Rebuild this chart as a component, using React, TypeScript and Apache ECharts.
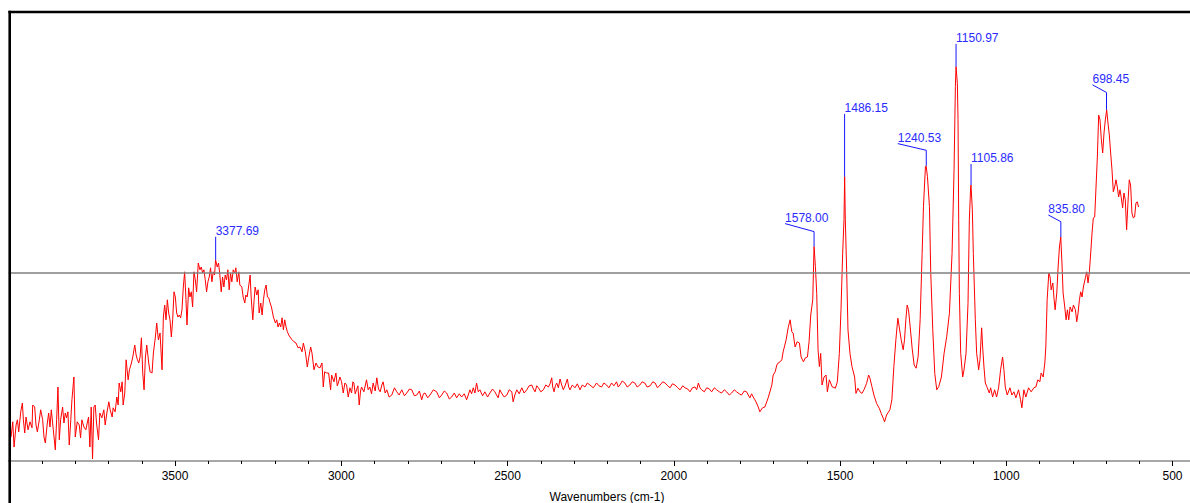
import { useEffect, useRef } from "react";
import * as echarts from "echarts";

// ---- axis settings ----
const X_MIN = 0;
const X_MAX = 4000;
const X_TICK_STEP = 500;
const Y_MIN = 0;
const Y_MAX = 112.25;
const axisTitle = "Wavenumbers (cm-1)";
const referenceLevel = 47.1;

// ---- spectrum (wavenumber cm-1, intensity a.u.) ----
const hydroxylRegion: [number, number][] = [
  [3993, 6], [3988, 9.8], [3984, 3.5], [3978, 9], [3974, 10.3], [3970, 7.3], [3964, 12.3], [3959, 14.5],
  [3956, 10.3], [3952, 7], [3948, 11], [3942, 7.8], [3936, 9.8], [3930, 8.3], [3928, 14], [3922, 13.5],
  [3918, 9], [3914, 7.3], [3908, 10.3], [3904, 12.8], [3898, 10.3], [3894, 6], [3890, 4.5], [3884, 9.5],
  [3880, 12], [3876, 8.5], [3872, 12.8], [3866, 7.8], [3860, 2.8], [3856, 10.3], [3852, 18.5], [3848, 5.3],
  [3844, 10.3], [3838, 13.5], [3834, 9.5], [3830, 12], [3826, 10.8], [3822, 12.3], [3818, 4], [3814, 9.5],
  [3810, 15.3], [3804, 21], [3800, 6], [3794, 9.8], [3788, 9], [3784, 5.8], [3780, 10.3], [3774, 8.5],
  [3768, 7.8], [3764, 9.5], [3760, 11], [3756, 3.5], [3752, 13.5], [3748, 0.5], [3744, 13.5], [3740, 14],
  [3736, 9.5], [3730, 5.3], [3726, 12], [3720, 10.8], [3714, 12.8], [3710, 9], [3705, 12], [3699, 14.8],
  [3695, 12.8], [3689, 11], [3686, 13.3], [3680, 12.3], [3675, 16], [3671, 14], [3668, 19.5], [3663, 17.3],
  [3659, 19.8], [3656, 14], [3651, 17], [3647, 25.3], [3641, 20.3], [3637, 22.8], [3631, 24.5], [3627, 26],
  [3621, 29], [3617, 26.5], [3613, 25.3], [3609, 24.5], [3605, 26], [3601, 30.8], [3597, 22], [3593, 17.8],
  [3589, 26], [3585, 29], [3579, 24.5], [3575, 22.3], [3569, 22], [3565, 27], [3559, 31], [3555, 34.5],
  [3550, 30.3], [3545, 32], [3539, 22.8], [3535, 36], [3531, 39], [3527, 35.3], [3523, 40.3], [3519, 37],
  [3515, 35.3], [3511, 31], [3507, 35.3], [3503, 42.3], [3499, 41], [3495, 37], [3491, 36], [3487, 36.5],
  [3483, 35.8], [3479, 37.8], [3475, 43.5], [3471, 47.3], [3467, 40.3], [3464, 34], [3459, 43.3], [3455, 41],
  [3451, 42.3], [3447, 38.5], [3443, 47.3], [3439, 45.3], [3435, 42.3], [3430, 49.5], [3425, 47.8], [3421, 48.5],
  [3417, 47], [3413, 47.8], [3409, 45.3], [3405, 42.3], [3401, 44.8], [3397, 46], [3393, 48.3], [3389, 44.8],
  [3385, 47.3], [3381, 46.5], [3378, 50.3], [3373, 48.5], [3369, 49.5], [3365, 46.5], [3361, 42.3], [3357, 46],
  [3353, 43.5], [3349, 46.5], [3345, 45.3], [3341, 47.8], [3337, 42.8], [3333, 47], [3329, 44.8], [3325, 47.8],
  [3320, 47], [3317, 48.3], [3313, 44.8], [3308, 47.3], [3305, 44], [3299, 43.5], [3295, 41], [3290, 39.5],
  [3287, 41.5], [3283, 41], [3278, 44], [3274, 46.5], [3271, 41], [3266, 35.3], [3262, 40.3], [3259, 43.5],
  [3254, 41.5], [3250, 42.8], [3247, 37], [3242, 39.5], [3238, 36.5], [3234, 40.3], [3230, 42.8], [3226, 44],
  [3222, 41], [3218, 40.8], [3214, 39.5], [3210, 38.5], [3204, 36], [3198, 34.5], [3194, 35.3], [3190, 33.5],
  [3186, 34.5], [3182, 33.5], [3178, 35.8], [3174, 32.8], [3170, 35.3], [3166, 33.5], [3162, 32.3], [3158, 31.5],
  [3154, 31], [3148, 30.3], [3142, 29.8], [3136, 29.5], [3130, 28.3], [3124, 28.5], [3118, 27.3], [3114, 29.5],
  [3108, 27.3], [3102, 23.5], [3098, 25.8], [3092, 28.5], [3088, 27], [3082, 22.8], [3076, 24.5], [3070, 23.5],
  [3064, 23.3], [3058, 24.5], [3054, 18.5], [3050, 22.3], [3044, 22], [3038, 22], [3032, 17.8],
];

const midRegion: [number, number][] = [
  [3029, 21.5], [3022, 19.8], [3016, 22], [3012, 18.8], [3009, 19.5], [3004, 21], [2999, 19.8], [2994, 17],
  [2989, 19.5], [2984, 19], [2979, 16], [2974, 18.3], [2969, 17], [2965, 19.8], [2962, 19.5], [2958, 16.8],
  [2954, 17.8], [2950, 18.8], [2946, 14], [2942, 17.5], [2939, 18.5], [2932, 17.3], [2924, 20.3], [2919, 17.8],
  [2914, 18.5], [2909, 16.8], [2904, 19.5], [2898, 17.5], [2893, 20.8], [2888, 18], [2883, 17.3], [2878, 19],
  [2874, 19.8], [2868, 17], [2863, 17.8], [2856, 16], [2848, 16.5], [2840, 18.3], [2833, 17.3], [2826, 16.5],
  [2818, 17.8], [2810, 16.3], [2803, 17], [2795, 18], [2788, 17.8], [2780, 16.3], [2773, 16.5], [2765, 17.5],
  [2758, 15.3], [2753, 16.8], [2748, 17], [2740, 15.8], [2733, 16.5], [2723, 17.8], [2713, 17.3], [2705, 15.8],
  [2698, 16.5], [2690, 17.5], [2683, 17], [2675, 15.5], [2668, 16], [2660, 17], [2653, 15.8], [2645, 16.8],
  [2638, 16], [2630, 16.8], [2623, 15.3], [2618, 16.5], [2613, 17.8], [2608, 16.8], [2603, 18.3], [2598, 17],
  [2593, 19.5], [2588, 17.3], [2583, 17.8], [2575, 16.3], [2568, 17.3], [2560, 16], [2553, 17], [2545, 18],
  [2538, 17.3], [2533, 16.5], [2528, 15.8], [2523, 17.8], [2518, 17], [2510, 16], [2502, 16.5], [2495, 17.8],
  [2487, 17.3], [2485, 16], [2483, 14.8], [2478, 16.5], [2472, 17.8], [2465, 16.8], [2457, 18.3], [2450, 17],
  [2442, 17.8], [2435, 18.8], [2427, 19], [2422, 18], [2417, 17.3], [2412, 18.8], [2407, 18.3], [2400, 17.3],
  [2392, 17.8], [2385, 19], [2377, 18.5], [2372, 19.3], [2367, 20.8], [2364, 18.5], [2360, 17.3], [2356, 18.8],
  [2352, 19.5], [2347, 18.3], [2342, 20.5], [2337, 19], [2332, 17.8], [2326, 19], [2320, 20.5], [2316, 18.5],
  [2312, 17.8], [2305, 19], [2297, 18.3], [2290, 19.3], [2282, 17.8], [2275, 19], [2267, 18.5], [2260, 19.5],
  [2252, 19], [2242, 18.3], [2232, 19.5], [2225, 18.8], [2217, 18.5], [2210, 19.5], [2202, 19], [2195, 18.3],
  [2187, 19.5], [2180, 18.8], [2172, 19.8], [2167, 18.5], [2162, 19], [2155, 20], [2147, 19.5], [2140, 18.5],
  [2132, 19], [2125, 19.8], [2117, 19.5], [2110, 18.5], [2102, 19], [2095, 19.8], [2087, 19.5], [2080, 18.5],
  [2071, 18.8], [2063, 19.8], [2056, 19.5], [2049, 18.3], [2041, 19], [2033, 19.8], [2026, 19.5], [2018, 18.8],
  [2011, 18.3], [2004, 19.3], [1996, 19], [1988, 18.3], [1981, 17.8], [1973, 18.8], [1966, 18.3], [1958, 18],
  [1951, 17.3], [1944, 18.3], [1936, 18.5], [1931, 17.8], [1926, 19.5], [1921, 18.3], [1916, 17.8], [1908, 17.3],
  [1901, 18.3], [1893, 18], [1886, 17.3], [1878, 18.3], [1871, 17.8], [1863, 17.3], [1856, 17], [1848, 17.8],
  [1841, 17.3], [1833, 16.5], [1826, 17], [1818, 17.8], [1811, 17.3], [1803, 16.8], [1796, 16.5], [1788, 17.5],
  [1781, 17.3], [1776, 16.5], [1771, 15.8], [1766, 16.8], [1761, 16], [1756, 15.3], [1751, 14.5], [1746, 13.5],
];

const fingerprintRegion: [number, number][] = [
  [1741, 12.3], [1733, 13.3], [1726, 13.5], [1716, 15.8], [1705, 19], [1701, 21.5], [1695, 22.3], [1690, 24],
  [1686, 24.5], [1680, 24.8], [1675, 25.3], [1671, 27.3], [1662, 30.3], [1656, 33.3], [1650, 35.3], [1645, 32.3],
  [1641, 32], [1635, 28.5], [1629, 29.8], [1622, 29.5], [1617, 26], [1610, 24.8], [1604, 25.8], [1598, 26],
  [1593, 29.8], [1588, 36.5], [1582, 40.3], [1578, 53.6], [1574, 48.6], [1570, 41.9], [1566, 27.8], [1562, 23.6],
  [1558, 26.9], [1554, 19], [1548, 21], [1542, 21.5], [1538, 17.3], [1532, 20.3], [1524, 18.6], [1514, 18.2],
  [1508, 19.8], [1502, 26.9], [1497, 37.8], [1492, 51.9], [1488, 60.3], [1486, 71.1], [1484, 60.3], [1480, 47.8],
  [1476, 32.8], [1470, 26.9], [1464, 23.6], [1456, 21], [1452, 16.9], [1446, 18.2], [1440, 17.3], [1434, 16.9],
  [1428, 17.8], [1420, 19.4], [1414, 21.5], [1410, 20.7], [1404, 18.6], [1398, 16.5], [1390, 14.4], [1382, 13.2],
  [1376, 11.9], [1370, 10.7], [1366, 9.8], [1360, 11.5], [1350, 12.8], [1344, 15.3], [1338, 23.6], [1332, 30.3],
  [1326, 35.7], [1322, 33.6], [1316, 30.3], [1310, 27.8], [1306, 30.3], [1302, 35.3], [1298, 39], [1294, 37.8],
  [1289, 33.6], [1283, 28.2], [1277, 24], [1271, 23.2], [1265, 26.1], [1259, 35.3], [1253, 51.9], [1249, 63.6],
  [1243, 73.6], [1241, 73.8], [1237, 71.1], [1231, 63.6], [1227, 46.9], [1221, 32.8], [1215, 21.9], [1209, 17.8],
  [1203, 18.6], [1195, 21], [1187, 26.9], [1179, 31.1], [1171, 36.9], [1163, 51.9], [1157, 72.8], [1153, 93.6],
  [1151, 98.6], [1147, 94.4], [1145, 85.3], [1143, 60.3], [1141, 41.9], [1137, 26.9], [1131, 21], [1127, 22.8],
  [1121, 26.9], [1115, 39.4], [1111, 60.3], [1107, 68.6], [1106, 69], [1102, 62.8], [1099, 51.9], [1093, 35.3],
  [1089, 26.9], [1086, 25], [1083, 22.8], [1079, 25.3], [1074, 33.3], [1071, 28.5], [1067, 23.5], [1063, 19.5],
  [1057, 18.3], [1051, 17], [1047, 18.3], [1041, 16], [1035, 17.8], [1029, 16], [1023, 18.3], [1017, 22.8],
  [1011, 26], [1007, 22.8], [1003, 18.5], [997, 16.5], [989, 18.3], [983, 16.5], [977, 17.3], [971, 15.8],
  [963, 17.8], [957, 15.3], [953, 13.3], [947, 17.8], [941, 16], [933, 18.3], [925, 17.3], [917, 18.3],
  [911, 18.5], [905, 20.3], [899, 19.8], [895, 22], [889, 21], [884, 24.5], [881, 28.5], [877, 40.3],
  [872, 47], [868, 46], [865, 42.8], [860, 44.5], [856, 40.3], [853, 37.8], [848, 42], [844, 48.5],
  [840, 53.5], [836, 56], [832, 48.5], [829, 42], [824, 38.5], [820, 35.3], [816, 37.8], [812, 35.3],
  [808, 38.5], [802, 37.3], [798, 39], [792, 37.8], [788, 34.8], [784, 37], [780, 40.3], [776, 42.3],
  [772, 41], [768, 43.5], [762, 45.8], [758, 47.3], [754, 44.5], [750, 47.3], [746, 52], [742, 57],
  [738, 60.8], [734, 61], [730, 68.5], [726, 76], [722, 86.5], [718, 85.3], [714, 80.3], [710, 77],
  [706, 82], [702, 85.3], [698, 87.8], [694, 84.5], [690, 81.5], [686, 77], [682, 72.8], [678, 67.3],
  [674, 68.5], [670, 70.3], [666, 68.5], [662, 66], [658, 67.8], [654, 65.8], [650, 63.3], [646, 67],
  [642, 65.3], [638, 57.8], [634, 64.5], [630, 70.3], [626, 69], [622, 62], [618, 60.8], [614, 61],
  [610, 64.5], [606, 64.8], [602, 63.5],
];

// ---- peak picks ----
const peakWavenumbers = [3377.69, 1578.0, 1486.15, 1240.53, 1150.97, 1105.86, 835.8, 698.45];
const peakIntensities = [50.3, 53.6, 71.1, 73.8, 98.6, 69, 56, 87.8];

// label layout (pixels): leader length above peak, horizontal shift of label, extra rise of slanted leader
const leaderLength = [23, 15, 62.7, 15.5, 22.7, 21, 15.3, 17.3];
const labelShift = [0, -29, 0, -28.5, 0, 0, -12.5, -14];
const labelRise = [0, 8, 0, 6.7, 0, 0, 6.7, 7.7];

const FONT = '12px Arial, "Liberation Sans", sans-serif';

export default function App() {
  const ref = useRef<HTMLDivElement>(null);

  useEffect(() => {
    if (!ref.current) return;
    const chart = echarts.init(ref.current, undefined, { renderer: "svg" });
    const spectrum = [...hydroxylRegion, ...midRegion, ...fingerprintRegion];

    chart.setOption({
      animation: false,
      backgroundColor: "#ffffff",
      grid: {
        left: 8.75,
        top: 12,
        width: 1330,
        height: 449,
        containLabel: false,
        outerBoundsMode: "none",
      },
      xAxis: {
        type: "value",
        min: X_MIN,
        max: X_MAX,
        interval: X_TICK_STEP,
        inverse: true,
        axisLine: { show: true, onZero: false, lineStyle: { color: "#a8a8a8", width: 2 } },
        axisTick: { show: true, length: 5, lineStyle: { color: "#000", width: 1 } },
        minorTick: { show: true, splitNumber: 5, length: 3, lineStyle: { color: "#000", width: 1 } },
        axisLabel: {
          color: "#000",
          fontSize: 12,
          fontFamily: 'Arial, "Liberation Sans", sans-serif',
          margin: 9,
          showMaxLabel: false,
          showMinLabel: false,
          formatter: (v: number) => String(v),
        },
        splitLine: { show: false },
        minorSplitLine: { show: false },
      },
      yAxis: { type: "value", min: Y_MIN, max: Y_MAX, show: false },
      series: [
        {
          type: "line",
          data: spectrum,
          showSymbol: false,
          symbol: "none",
          lineStyle: { color: "#ff0000", width: 1 },
          silent: true,
          z: 3,
          markLine: {
            silent: true,
            symbol: "none",
            label: { show: false },
            lineStyle: { color: "#7f7f7f", width: 1.5, type: "solid" },
            data: [{ yAxis: referenceLevel }],
          },
        },
        {
          type: "custom",
          data: peakWavenumbers.map((w, i) => [w, peakIntensities[i], i]),
          silent: true,
          clip: false,
          z: 5,
          renderItem: (_params: any, api: any) => {
            const i = api.value(2) as number;
            const p = api.coord([api.value(0), api.value(1)]);
            const px = p[0];
            const py = p[1];
            const topY = py - leaderLength[i];
            const ax = px + labelShift[i];
            const ay = topY - labelRise[i];
            const pts =
              labelShift[i] !== 0
                ? [[ax, ay], [px, topY], [px, py]]
                : [[px, topY], [px, py]];
            return {
              type: "group",
              children: [
                {
                  type: "polyline",
                  shape: { points: pts },
                  style: { stroke: "#1515ff", lineWidth: 1, fill: "none" },
                },
                {
                  type: "text",
                  style: {
                    text: peakWavenumbers[i].toFixed(2),
                    x: ax,
                    y: ay - 6,
                    align: "left",
                    verticalAlign: "middle",
                    fill: "#2a2aff",
                    font: FONT,
                  },
                },
              ],
            };
          },
        },
      ],
      graphic: [
        {
          type: "line",
          z: 10,
          shape: { x1: 9.7, y1: 10.8, x2: 9.7, y2: 503 },
          style: { stroke: "#000", lineWidth: 2.6 },
        },
        {
          type: "line",
          z: 10,
          shape: { x1: 8.4, y1: 12, x2: 1190, y2: 12 },
          style: { stroke: "#000", lineWidth: 2.6 },
        },
        {
          type: "text",
          x: 607,
          y: 496.5,
          style: {
            text: axisTitle,
            align: "center",
            verticalAlign: "middle",
            textAlign: "center",
            textVerticalAlign: "middle",
            fill: "#000",
            font: FONT,
          },
        },
      ],
    });

    return () => chart.dispose();
  }, []);

  return (
    <div
      ref={ref}
      style={{ position: "fixed", left: 0, top: 0, width: 1190, height: 503, background: "#fff" }}
    />
  );
}
